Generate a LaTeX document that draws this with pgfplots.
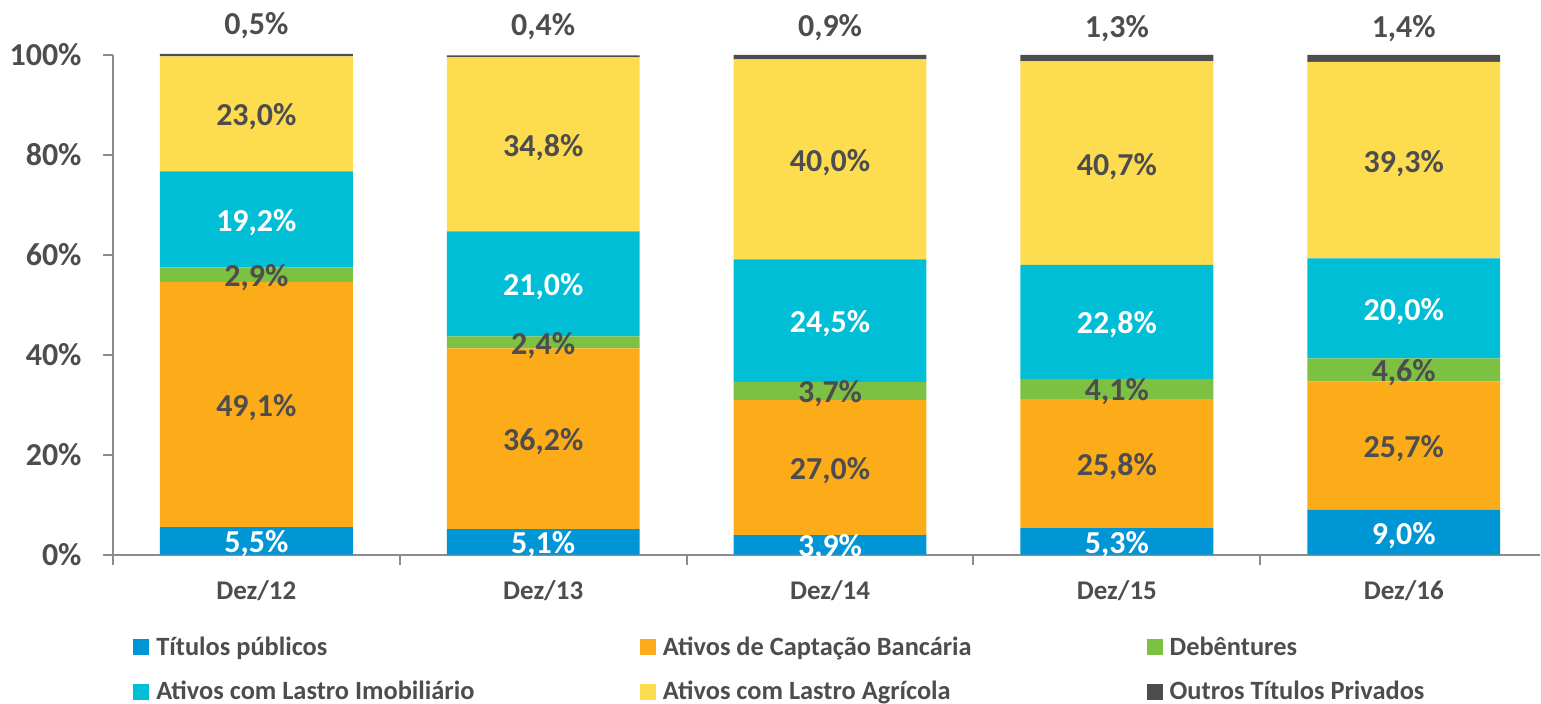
\documentclass[border=0pt]{standalone}
\usepackage{pgfplots}
\pgfplotsset{compat=1.18}
\usepackage{pgfplotstable}
\usepackage{fontspec}
\setmainfont{Carlito}
\definecolor{cBlue}{HTML}{0096D6}
\definecolor{cOrange}{HTML}{FBAC18}
\definecolor{cGreen}{HTML}{7DC142}
\definecolor{cCyan}{HTML}{00BED6}
\definecolor{cYellow}{HTML}{FEDC4F}
\definecolor{cDark}{HTML}{4D4D4F}
\definecolor{cText}{HTML}{4D4D4F}
\definecolor{cAxis}{HTML}{8C8C8C}
\pgfplotstableread{
x tp acb deb ali aag otp
0 5.5 49.1 2.9 19.2 23.0 0.5
1 5.1 36.2 2.4 21.0 34.8 0.4
2 3.9 27.0 3.7 24.5 40.0 0.9
3 5.3 25.8 4.1 22.8 40.7 1.3
4 9.0 25.7 4.6 20.0 39.3 1.4
}\datatable
\pgfplotsset{
  sq/.style={legend image code/.code={\fill[##1] (0bp,-4bp) rectangle (8bp,4bp);}},
  mid/.style={
    point meta=rawy,
    nodes near coords={\pgfmathprintnumber[fixed,fixed zerofill,precision=1,use comma]{\pgfplotspointmeta}\%},
    every node near coord/.append style={anchor=center, inner sep=0pt,
      yshift=-1.5bp, text=#1,
      font=\fontsize{16bp}{18bp}\selectfont\bfseries}
  },
  top/.style={
    point meta=rawy,
    nodes near coords={\pgfmathprintnumber[fixed,fixed zerofill,precision=1,use comma]{\pgfplotspointmeta}\%},
    every node near coord/.append style={anchor=center, inner sep=0pt,
      yshift=15bp, text=cText,
      font=\fontsize{16bp}{18bp}\selectfont\bfseries}
  },
}
\begin{document}
\begin{tikzpicture}
\begin{axis}[
  name=ax,
  scale only axis,
  width=714bp, height=250bp,
  ybar stacked, bar width=96.5bp,
  xmin=-0.5, xmax=4.475, ymin=0, ymax=100,
  clip=false,
  axis x line*=bottom, axis y line*=left,
  axis line style={cAxis, line width=1bp},
  tick style={cAxis, line width=1bp},
  tick align=outside,
  major tick length=5bp,
  xtick={-0.5,0.5,1.5,2.5,3.5},
  xticklabels={},
  extra x ticks={0,1,2,3,4},
  extra x tick labels={Dez/12,Dez/13,Dez/14,Dez/15,Dez/16},
  extra x tick style={major tick length=0pt,
    xticklabel style={anchor=base, inner sep=0pt, yshift=-22.5bp,
      font=\fontsize{13.5bp}{15bp}\selectfont\bfseries, text=cText}},
  ytick={0,20,40,60,80,100},
  yticklabel={\pgfmathprintnumber{\tick}\%},
  yticklabel style={anchor=east, inner sep=0pt, xshift=-10.5bp,
    font=\fontsize{16bp}{18bp}\selectfont\bfseries, text=cText},
  /pgf/number format/assume math mode=true,
  legend columns=3,
  legend cell align=left,
  legend style={draw=none, fill=none, inner sep=0pt,
    at={(axis description cs:0.014,-0.163)}, anchor=north west,
    font=\fontsize{13.2bp}{15bp}\selectfont\bfseries, text=cText,
    nodes={inner sep=0pt},
    row sep=11.5bp,
    /tikz/every odd column/.append style={column sep=3.5bp}},
]
\addplot[fill=cBlue, draw=none, sq, mid=white] table[x=x, y=tp] {\datatable};
\addlegendentry{\makebox[242bp][l]{Títulos públicos}}
\addplot[fill=cOrange, draw=none, sq, mid=cText] table[x=x, y=acb] {\datatable};
\addlegendentry{\makebox[242bp][l]{Ativos de Captação Bancária}}
\addplot[fill=cGreen, draw=none, sq, mid=cText] table[x=x, y=deb] {\datatable};
\addlegendentry{\makebox[140bp][l]{Debêntures}}
\addplot[fill=cCyan, draw=none, sq, mid=white] table[x=x, y=ali] {\datatable};
\addlegendentry{\makebox[242bp][l]{Ativos com Lastro Imobiliário}}
\addplot[fill=cYellow, draw=none, sq, mid=cText] table[x=x, y=aag] {\datatable};
\addlegendentry{\makebox[242bp][l]{Ativos com Lastro Agrícola}}
\addplot[fill=cDark, draw=none, sq, top] table[x=x, y=otp] {\datatable};
\addlegendentry{\makebox[140bp][l]{Outros Títulos Privados}}
\end{axis}
\path ([xshift=-56.5bp, yshift=-74.5bp]ax.south west) rectangle ([yshift=27.5bp]ax.north east);
\end{tikzpicture}
\end{document}
